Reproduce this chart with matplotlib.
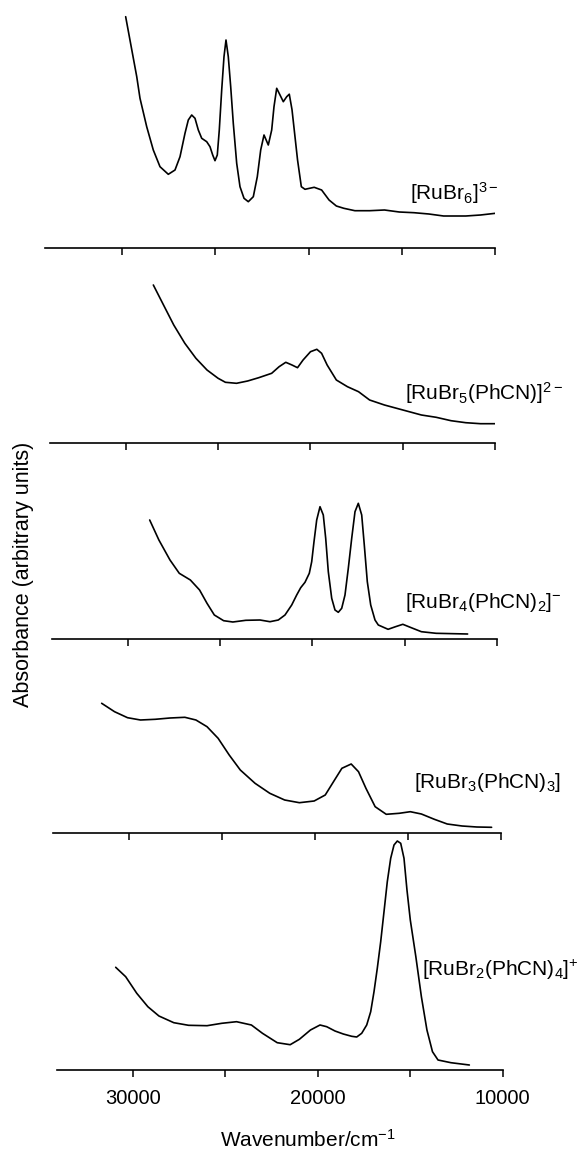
import matplotlib
matplotlib.use("Agg")
import matplotlib.pyplot as plt

plt.rcParams['font.family'] = ['Liberation Sans', 'DejaVu Sans']
plt.rcParams['mathtext.fontset'] = 'custom'
plt.rcParams['mathtext.rm'] = 'Liberation Sans'
plt.rcParams['mathtext.it'] = 'Liberation Sans:italic'
plt.rcParams['mathtext.bf'] = 'Liberation Sans:bold'
plt.rcParams['mathtext.default'] = 'regular'

# ---------------- data (wavenumber / cm^-1, absorbance in arbitrary units) ----------------
labels = [r'[RuBr$_6$]$^{3-}$',
          r'[RuBr$_5$(PhCN)]$^{2-}$',
          r'[RuBr$_4$(PhCN)$_2$]$^{-}$',
          r'[RuBr$_3$(PhCN)$_3$]',
          r'[RuBr$_2$(PhCN)$_4$]$^{+}$']

wn_rubr6 = [29804, 29210, 29036, 28677, 28324, 27965, 27520, 27161, 26893, 26626, 26449, 26267,
            26090, 25913, 25731, 25463, 25287, 25142, 25019, 24896, 24789, 24660, 24537, 24430,
            24307, 24178, 24039, 23857, 23680, 23465, 23235, 22967, 22753, 22571, 22394, 22164,
            21982, 21859, 21714, 21537, 21360, 21178, 21040, 20894, 20597, 20395, 20199, 19706,
            19308, 18910, 18518, 18120, 17526, 16736, 15940, 15150, 14360, 13564, 12774, 11586,
            10796, 10000]
abs_rubr6 = [231, 171, 149.4, 121, 97.7, 81, 73.4, 77.7, 91, 114.4, 127.7, 132.7,
             129.4, 117.7, 109.4, 106, 101, 92.7, 87, 92.7, 117.7, 157.7, 191, 207.7,
             191, 161, 124.4, 84.4, 61, 49.4, 46, 51, 71, 97.7, 112.7, 102.7,
             117.7, 141, 159.4, 152.7, 146, 151, 153.5, 138, 87.7, 61, 58.4, 60.4,
             57.7, 47.7, 41.7, 39.4, 37, 37, 37.7, 35.7, 35, 33.7, 31.7, 31.7,
             32.7, 34.4]

wn_rubr5 = [28500, 27996, 27396, 26797, 26197, 25597, 24997, 24601, 24001, 23401, 22801, 22100,
            21698, 21338, 21002, 20702, 20402, 20000, 19658, 19400, 19100, 18602, 18002, 17402,
            16803, 16001, 15003, 14002, 13203, 12400, 11602, 10804, 10000]
abs_rubr5 = [157.7, 139.4, 117.7, 99.4, 84.4, 72.7, 64.4, 60.4, 59.4, 61.7, 65, 69.4,
             76, 80.4, 77.7, 75, 82.7, 91, 93.4, 89.4, 77.7, 62.7, 56, 51,
             42.7, 37.7, 32.7, 27.7, 25.4, 22, 20, 19, 19]

wn_rubr4 = [28800, 28302, 27702, 27199, 26599, 26101, 25699, 25303, 24799, 24301, 23599, 22832,
            22291, 21842, 21480, 21117, 20847, 20630, 20398, 20165, 20035, 19911, 19765, 19586,
            19408, 19278, 19137, 18953, 18775, 18596, 18412, 18234, 18055, 17871, 17693, 17514,
            17330, 17190, 17027, 16843, 16611, 16432, 15903, 15501, 15105, 14703, 14103, 13305,
            11601]
abs_rubr4 = [119.3, 99.3, 79.3, 66, 59.3, 49.3, 36, 24.3, 18.6, 17.3, 19, 19.3,
             17.6, 19.3, 24.3, 34.3, 44.3, 51.6, 57, 66, 77.6, 97.6, 119.3, 132.6,
             124.3, 101, 67.6, 41, 29.3, 27, 31, 44.3, 71, 101, 127.6, 136,
             124.3, 94.3, 57.6, 34.3, 19.3, 14.3, 10, 12.6, 15, 12, 7.6, 6,
             5.3]

wn_rubr3 = [31493, 30800, 30101, 29403, 28609, 27815, 27015, 26418, 25821, 25224, 24627, 24030,
            23236, 22442, 21642, 20848, 20054, 19457, 18955, 18561, 18060, 17666, 17266, 16770,
            16173, 15475, 14878, 14281, 13582, 12889, 12090, 11296, 10501]
abs_rubr3 = [129.4, 121, 115, 112.7, 113.4, 114.7, 115.4, 112.7, 106, 94.4, 77.7, 62.7,
             49.4, 39.4, 32.7, 30, 31.7, 37.7, 52.7, 64.4, 68.7, 61, 44.4, 26,
             18.4, 19.4, 21, 18.7, 13.4, 8.7, 6.7, 5.7, 5.4]

wn_rubr2 = [30942, 30402, 29802, 29202, 28602, 27798, 26999, 25999, 25201, 24403, 23599, 23000,
            22201, 21500, 21002, 20402, 19886, 19524, 19075, 18626, 18171, 17900, 17630, 17359,
            17143, 16964, 16786, 16602, 16423, 16245, 16061, 15882, 15703, 15519, 15341, 15180,
            15000, 14700, 14400, 14100, 13800, 13500, 12801, 11805]
abs_rubr2 = [102.7, 93.3, 76.7, 63.3, 54, 47.3, 44.7, 44.3, 46.7, 48.3, 45, 36.7,
             27.3, 25.3, 30.7, 40, 45, 43.3, 39, 36, 33.7, 33, 36.7, 45,
             58.3, 78.3, 101.7, 128.3, 158.3, 188.3, 211.7, 225, 229, 226.7, 211.7, 180,
             150, 113.3, 73.3, 40, 18.3, 10, 7.3, 5]

spectra_wn = [wn_rubr6, wn_rubr5, wn_rubr4, wn_rubr3, wn_rubr2]
spectra_abs = [abs_rubr6, abs_rubr5, abs_rubr4, abs_rubr3, abs_rubr2]

x_ticks = [30000, 25000, 20000, 15000, 10000]
x_ticklabels = ['30000', '', '20000', '', '10000']

# ---------------- layout (pixels) ----------------
W, Hf = 579, 1152
fig = plt.figure(figsize=(W / 100, Hf / 100), dpi=100)

# per panel: pixel of 30000, pixel of 10000, baseline y, top y
panels = [(122.0, 495.4, 247.7, 10.0),
          (125.6, 495.4, 442.7, 270.0),
          (127.5, 497.2, 639.3, 490.0),
          (129.4, 500.9, 832.7, 690.0),
          (133.1, 502.7, 1070.0, 835.0)]
label_pos = [(410, 193), (405, 393), (405, 603), (414, 783), (422, 970)]

XMAX = 34100
for i, (x30, x10, base, top) in enumerate(panels):
    s = (x10 - x30) / 20000.0
    left = x30 - (XMAX - 30000) * s
    H = base - top
    ax = fig.add_axes([left / W, 1 - base / Hf, (x10 - left) / W, H / Hf])
    ax.plot(spectra_wn[i], spectra_abs[i], color='black', lw=1.2,
            solid_joinstyle='round', solid_capstyle='round')
    ax.set_xlim(XMAX, 10000)
    ax.set_ylim(0, H)
    for sp in ['top', 'right', 'left']:
        ax.spines[sp].set_visible(False)
    ax.spines['bottom'].set_linewidth(1.2)
    ax.set_yticks([])
    ax.set_xticks(x_ticks)
    ax.tick_params(axis='x', direction='out', length=5, width=1.1, pad=9, labelsize=14.5)
    if i == len(panels) - 1:
        ax.set_xticklabels(x_ticklabels)
    else:
        ax.set_xticklabels([])
    ax.patch.set_visible(False)
    lx, ly = label_pos[i]
    fig.text(lx / W, 1 - ly / Hf, labels[i], ha='left', va='center', fontsize=15)

fig.text(308 / W, 1 - 1140 / Hf, r'Wavenumber/cm$^{-1}$', ha='center', va='center', fontsize=15)
fig.text(24 / W, 1 - 574 / Hf, 'Absorbance (arbitrary units)', rotation=90,
         ha='center', va='center', fontsize=15.5)

fig.savefig('out.png', dpi=100, facecolor='white')
